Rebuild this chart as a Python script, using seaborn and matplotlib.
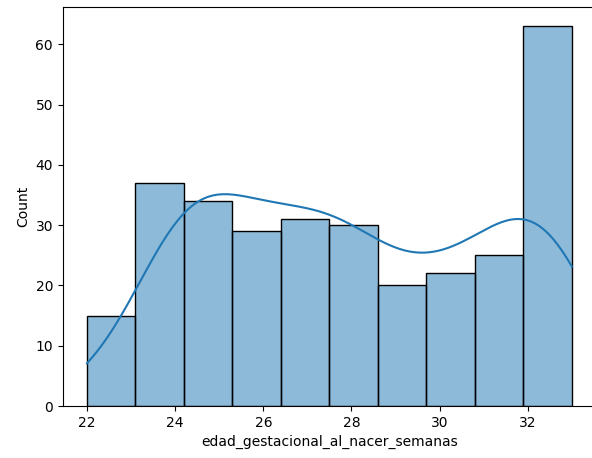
import matplotlib
matplotlib.use("Agg")
import matplotlib.pyplot as plt
import seaborn as sns
import pandas as pd
import numpy as np

weeks = [22, 23, 24, 25, 26, 27, 28, 29, 30, 31, 32, 33]
counts = [4, 11, 37, 34, 29, 31, 30, 20, 22, 25, 35, 28]

values = np.repeat(weeks, counts)
df = pd.DataFrame({"edad_gestacional_al_nacer_semanas": values})

fig = plt.figure(figsize=(5.92, 4.58), dpi=100)
ax = fig.add_axes([0.106, 0.1135, 0.901, 0.8705])
sns.histplot(data=df, x="edad_gestacional_al_nacer_semanas",
             bins=10, kde=True, ax=ax)
ax.set_xlim(21.45, 33.55)
ax.spines["right"].set_visible(False)
ax.set_ylabel("Count")
fig.savefig("out.png", dpi=100)
